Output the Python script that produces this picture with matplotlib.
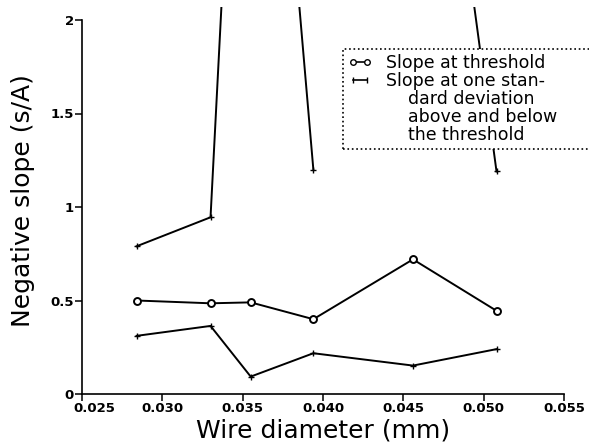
import matplotlib
matplotlib.use("Agg")
import matplotlib.pyplot as plt
import numpy as np
from matplotlib.lines import Line2D
import matplotlib.transforms as mtransforms

# Data
diameter = [0.0284, 0.0330, 0.0355, 0.0394, 0.0456, 0.0508]
slope_threshold = [0.50, 0.485, 0.49, 0.40, 0.72, 0.445]
slope_upper = [0.79, 0.945, 5.1, 1.20, 4.5, 1.19]
slope_lower = [0.311, 0.364, 0.093, 0.218, 0.152, 0.240]
xticks = [0.025, 0.030, 0.035, 0.040, 0.045, 0.050, 0.055]
xtick_labels = ["0.025", "0.030", "0.035", "0.040", "0.045", "0.050", "0.055"]
yticks = [0, 0.5, 1, 1.5, 2]
ytick_labels = ["0", "0.5", "1", "1.5", "2"]
legend_lines = ["Slope at threshold", "Slope at one stan-",
                "    dard deviation", "    above and below", "    the threshold"]

W, H = 589, 443
fig = plt.figure(figsize=(W / 100, H / 100), dpi=100)
plt.rcParams['font.family'] = ['DejaVu Sans']

px_per_unit = 187.0
ytop = 2.07
left, right = 82 / W, 564 / W
bottom = (H - 394) / H
height = ytop * px_per_unit / H
ax = fig.add_axes([left, bottom, right - left, height])

lw = 1.4
# upper series drawn in two pieces (gap between 4th and 5th point in reference)
ax.plot(diameter[:4], slope_upper[:4], color='black', lw=lw, marker='+', ms=4, mew=1)
ax.plot(diameter[4:], slope_upper[4:], color='black', lw=lw, marker='+', ms=4, mew=1)
ax.plot(diameter, slope_lower, color='black', lw=lw, marker='+', ms=4, mew=1)
ax.plot(diameter, slope_threshold, color='black', lw=lw, marker='o', ms=5,
        mfc='white', mec='black', mew=1.4)

ax.set_xlim(0.025, 0.055)
ax.set_ylim(0, ytop)
ax.spines['top'].set_visible(False)
ax.spines['right'].set_visible(False)
ax.spines['left'].set_bounds(0, 2)
for s in ['left', 'bottom']:
    ax.spines[s].set_linewidth(1.2)

ax.set_xticks(xticks)
ax.set_xticklabels(xtick_labels, fontsize=9.5, fontweight='bold')
ax.set_yticks(yticks)
ax.set_yticklabels(ytick_labels, fontsize=9.5, fontweight='bold')
ax.tick_params(direction='out', length=5, width=1.1, pad=1)
# first x tick label sits slightly right of its tick in the reference
first = ax.get_xticklabels()[0]
first.set_transform(first.get_transform() +
                    mtransforms.ScaledTranslation(12 / 100, 0, fig.dpi_scale_trans))

ax.set_xlabel("Wire diameter (mm)", fontsize=18, labelpad=2)
ax.set_ylabel("Negative slope (s/A)", fontsize=18, labelpad=11)

blank = Line2D([], [], color='none')
handles = [
    Line2D([], [], color='black', lw=1.2, marker='o', ms=4, mfc='white', mec='black'),
    Line2D([], [], color='black', lw=1.2, marker='|', ms=5, mew=1),
    blank, blank, blank,
]
leg = fig.legend(handles, legend_lines, loc='upper left',
                 bbox_to_anchor=(343 / W, 1 - 49 / H, (W - 343) / W + 0.01, 0),
                 bbox_transform=fig.transFigure, mode='expand',
                 fontsize=12.5, numpoints=2, handlelength=1.4, handletextpad=0.8,
                 borderpad=0.28, labelspacing=0.0, fancybox=False, framealpha=1,
                 borderaxespad=0)
frame = leg.get_frame()
frame.set_edgecolor('black')
frame.set_linestyle(':')
frame.set_linewidth(1.2)
leg.set_zorder(10)

fig.savefig("out.png", dpi=100)
